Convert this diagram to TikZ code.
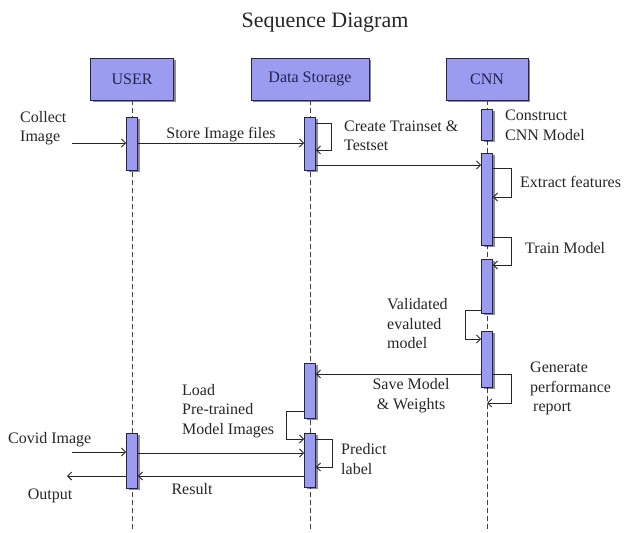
\documentclass[tikz,border=0pt]{standalone}
\usepackage{fontspec}
\setmainfont{Liberation Serif}
\usetikzlibrary{arrows.meta,shadows}
\definecolor{barblue}{RGB}{155,155,240}
\definecolor{edgenavy}{RGB}{35,35,75}

\begin{document}
\begin{tikzpicture}[x=1pt,y=-1pt,
	every node/.style={font=\fontsize{16}{19.5}\selectfont, text=black!85, inner sep=0pt},
	shade/.style={drop shadow={shadow xshift=2pt, shadow yshift=-2pt, fill=black, opacity=0.45}},
	actor/.style={draw=edgenavy, fill=barblue, line width=0.9pt, minimum height=42pt, text=edgenavy, shade},
	bar/.style={draw=edgenavy, fill=barblue, line width=0.8pt, minimum width=11pt, shade},
	life/.style={dash pattern=on 5pt off 3pt, line width=0.8pt, black!75},
	msg/.style={line width=0.9pt, black!85, -{Straight Barb[length=4pt,width=8pt]}},
	lbl/.style={anchor=west, align=left}]
	\useasboundingbox (0,0) rectangle (628,532);

	\node[font=\fontsize{22}{26}\selectfont] (title) at (325,23) {Sequence Diagram};

	\node[actor, minimum width=83pt] (user) at (132,79) {USER};
	\node[actor, minimum width=118pt] (store) at (310,79) {Data Storage};
	\node[actor, minimum width=82pt] (cnn) at (487,79) {CNN};

	\draw[life] (user.south) -- (user.south |- 0,532);
	\draw[life] (store.south) -- (store.south |- 0,532);
	\draw[life] (cnn.south) -- (cnn.south |- 0,532);

	\node[bar, minimum height=53pt] (user1) at (132,143.5) {};
	\node[bar, minimum height=55pt] (user2) at (132,460.5) {};
	\node[bar, minimum height=53pt] (store1) at (310,143.5) {};
	\node[bar, minimum height=55pt] (store2) at (310,390.5) {};
	\node[bar, minimum height=54pt] (store3) at (310,460) {};
	\node[bar, minimum height=31pt] (cnn1) at (487,124.5) {};
	\node[bar, minimum height=92pt] (cnn2) at (487,199) {};
	\node[bar, minimum height=54pt] (cnn3) at (487,286) {};
	\node[bar, minimum height=56pt] (cnn4) at (487,359) {};

	\coordinate (collect) at (72,143);
	\coordinate (covid) at (72,452);
	\coordinate (output) at (67,476);
	\coordinate (report) at (cnn4.south |- 0,403);

	\draw[msg] (collect) -- (user1.west |- collect);
	\draw[msg] (user1.east |- 0,143) -- (store1.west |- 0,143);
	\draw[msg] (store1.east |- 0,123) -- ++(15.5,0) |- (store1.east |- 0,150);
	\draw[msg] (store1.east |- 0,165) -- (cnn2.west |- 0,165);
	\draw[msg] (cnn2.east |- 0,168) -- ++(18.5,0) |- (cnn2.east |- 0,197);
	\draw[msg] (cnn2.east |- 0,237) -- ++(18.5,0) |- (cnn3.east |- 0,265);
	\draw[msg] (cnn3.west |- 0,310) -- ++(-15.5,0) |- (cnn4.west |- 0,339);
	\draw[msg] (cnn4.west |- 0,374) -- (store2.east |- 0,374);
	\draw[msg] (cnn4.east |- 0,374) -- ++(18.5,0) |- (report);
	\draw[msg] (store2.west |- 0,411) -- ++(-17.5,0) |- (store3.west |- 0,439);
	\draw[msg] (covid) -- (user2.west |- covid);
	\draw[msg] (user2.east |- 0,453) -- (store3.west |- 0,453);
	\draw[msg] (store3.east |- 0,439) -- ++(16.5,0) |- (store3.east |- 0,467);
	\draw[msg] (store3.west |- 0,476) -- (user2.east |- 0,476);
	\draw[msg] (user2.west |- output) -- (output);

	\node[lbl] (lcollect) at (20,128) {Collect\\Image};
	\node (lstore) at (221,135) {Store Image files};
	\node[lbl] (lcreate) at (344,136) {Create Trainset \&\\Testset};
	\node[lbl] (lconstruct) at (505,125.5) {Construct\\CNN Model};
	\node[lbl] (lextract) at (520,182) {Extract features};
	\node[lbl] (ltrain) at (525,248) {Train Model};
	\node[lbl] (lvalid) at (387,324) {Validated\\evaluted\\model};
	\node[align=center] (lsave) at (411,395.5) {Save Model\\\& Weights};
	\node[lbl] (lgenerate) at (530,388.5) {Generate\\performance\\\hspace{3pt}report};
	\node[lbl] (lload) at (182,411) {Load\\Pre-trained\\Model Images};
	\node[lbl] (lcovid) at (8,440) {Covid Image};
	\node[lbl] (lpredict) at (341,459) {Predict\\label};
	\node (lresult) at (192,489) {Result};
	\node (loutput) at (50,496) {Output};
\end{tikzpicture}
\end{document}
